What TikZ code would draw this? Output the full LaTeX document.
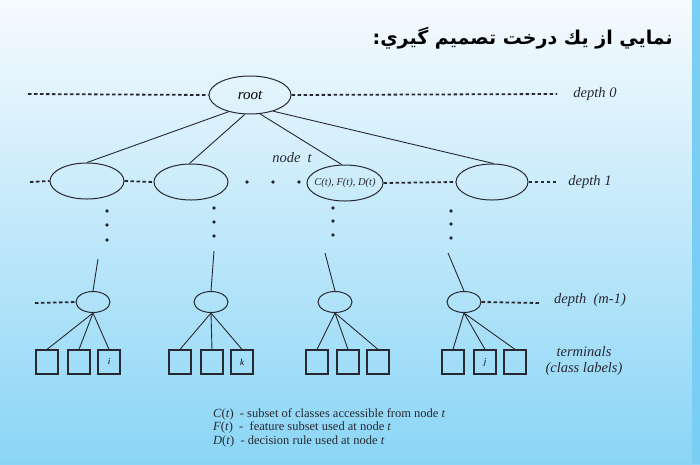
\documentclass[tikz,border=0pt]{standalone}
\usepackage{fontspec}
\setmainfont{Liberation Serif}
\newfontfamily\arabicfont[Script=Arabic]{DejaVu Sans}
\TeXXeTstate=1
\usetikzlibrary{shapes.geometric}
\definecolor{bgtop}{RGB}{246,251,254}
\definecolor{bgbot}{RGB}{138,213,246}
\definecolor{strip}{RGB}{122,206,243}
\definecolor{ink}{RGB}{40,40,48}
\tikzset{
  topnode/.style={ellipse,draw=ink,line width=1pt,minimum width=74pt,minimum height=36pt,inner sep=0pt,font=\fontsize{15}{17}\selectfont\itshape},
  lownode/.style={ellipse,draw=ink,line width=1pt,minimum width=34pt,minimum height=21pt,inner sep=0pt},
  leaf/.style={rectangle,draw=ink,line width=1.2pt,minimum width=22pt,minimum height=24pt,inner sep=0pt,font=\fontsize{9}{10}\selectfont\itshape},
  depthline/.style={ink,line width=1.8pt,dash pattern=on 3.5pt off 2.5pt},
  lbl/.style={font=\fontsize{14.5}{16}\selectfont\itshape,text=ink,inner sep=0pt},
}
\begin{document}
\begin{tikzpicture}[x=1pt,y=-1pt]
  \useasboundingbox (0,0) rectangle (700,464);
  \shade[top color=bgtop,bottom color=bgbot] (0,0) rectangle (700,464);
  \fill[strip] (692,0) rectangle (700,464);
  \node[anchor=east,inner sep=0pt,font=\arabicfont\bfseries\fontsize{19}{22}\selectfont] (title) at (673,38)
    {\beginR نمايي از يك درخت تصميم گيري:\endR};
  \draw
    (250,95) node[topnode,minimum width=82pt,minimum height=38pt] (root){root}
    (87,181) node[topnode] (a){}
    (191,182) node[topnode] (b){}
    (345,183) node[topnode,minimum width=76pt,
      label={[inner sep=0pt,text=ink,font=\fontsize{10.5}{12}\selectfont\itshape]center:{C(t), F(t), D(t)}}] (t){}
    (492,182) node[topnode,minimum width=72pt] (d){}
    (93,302) node[lownode] (a1){}
    (211,302) node[lownode] (b1){}
    (335,302) node[lownode] (t1){}
    (464,302) node[lownode] (d1){};
  \draw
    (47,362) node[leaf] (a11){}
    (79,362) node[leaf] (a12){}
    (109,362) node[leaf] (a13){i}
    (180,362) node[leaf] (b11){}
    (212,362) node[leaf] (b12){}
    (242,362) node[leaf] (b13){k}
    (317,362) node[leaf] (t11){}
    (348,362) node[leaf] (t12){}
    (378,362) node[leaf] (t13){}
    (453,362) node[leaf] (d11){}
    (485,362) node[leaf] (d12){j}
    (515,362) node[leaf] (d13){};
  % depth labels
  \node[lbl] (lab0) at (595,94) {depth 0};
  \node[lbl] (lab1) at (590,182) {depth 1};
  \node[lbl] (labm) at (590,300) {depth\ \ (m-1)};
  \node[lbl,align=center] (labt) at (584,361) {terminals\\(class labels)};
  \node[lbl] (labn) at (292,158) {node\ \ t};
  \coordinate (l0) at (28,94);
  \coordinate (r0) at (557,94);
  \coordinate (l1) at (30,182);
  \coordinate (r1) at (558,182);
  \coordinate (lm) at (35,303);
  \coordinate (rm) at (540,303);
  \coordinate (ua) at (98,259);
  \coordinate (ub) at (214,251);
  \coordinate (ut) at (325,253);
  \coordinate (ud) at (448,253);
  \begin{scope}[depthline]
    \draw (l0) to (root.west);
    \draw (root.east) to (r0);
    \draw (l1) to (a.west);
    \draw (a.east) to (b.west);
    \draw (t.east) to (d.west);
    \draw (d.east) to (r1);
    \draw (lm) to (a1.west);
    \draw (d1.east) to (rm);
  \end{scope}
  \begin{scope}[ink,line width=0.9pt]
    \draw (root.218) to (a.north);
    \draw (root.255) to (b.95);
    \draw (root.298) to (t.100);
    \draw (root.325) to (d.85);
    \draw (ua) to (a1.north);
    \draw (ub) to (b1.north);
    \draw (ut) to (t1.north);
    \draw (ud) to (d1.north);
    \draw (a1.south) to (a11.north);
    \draw (a1.south) to (a12.north);
    \draw (a1.south) to (a13.north);
    \draw (b1.south) to (b11.north);
    \draw (b1.south) to (b12.north);
    \draw (b1.south) to (b13.north);
    \draw (t1.south) to (t11.north);
    \draw (t1.south) to (t12.north);
    \draw (t1.south) to (t13.north);
    \draw (d1.south) to (d11.north);
    \draw (d1.south) to (d12.north);
    \draw (d1.south) to (d13.north);
  \end{scope}
  % dots
  \begin{scope}[fill=ink]
    \fill (247,182) circle (1.8pt) (273,182) circle (1.8pt) (299,182) circle (1.8pt);
    \fill (107,211) circle (1.8pt) (107,225) circle (1.8pt) (107,240) circle (1.8pt);
    \fill (214,208) circle (1.8pt) (214,222) circle (1.8pt) (214,236) circle (1.8pt);
    \fill (333,208) circle (1.8pt) (333,221) circle (1.8pt) (333,235) circle (1.8pt);
    \fill (451,211) circle (1.8pt) (451,224) circle (1.8pt) (451,238) circle (1.8pt);
  \end{scope}
  \node[anchor=north west,align=left,inner sep=0pt,text=ink,font=\fontsize{12.5}{13.5}\selectfont] (key) at (213,408)
    {\textit{C}(\textit{t})\ \ - subset of classes accessible from node \textit{t}\\
     \textit{F}(\textit{t})\ \ -\ \ feature subset used at node \textit{t}\\
     \textit{D}(\textit{t})\ \ - decision rule used at node \textit{t}};
\end{tikzpicture}
\end{document}
